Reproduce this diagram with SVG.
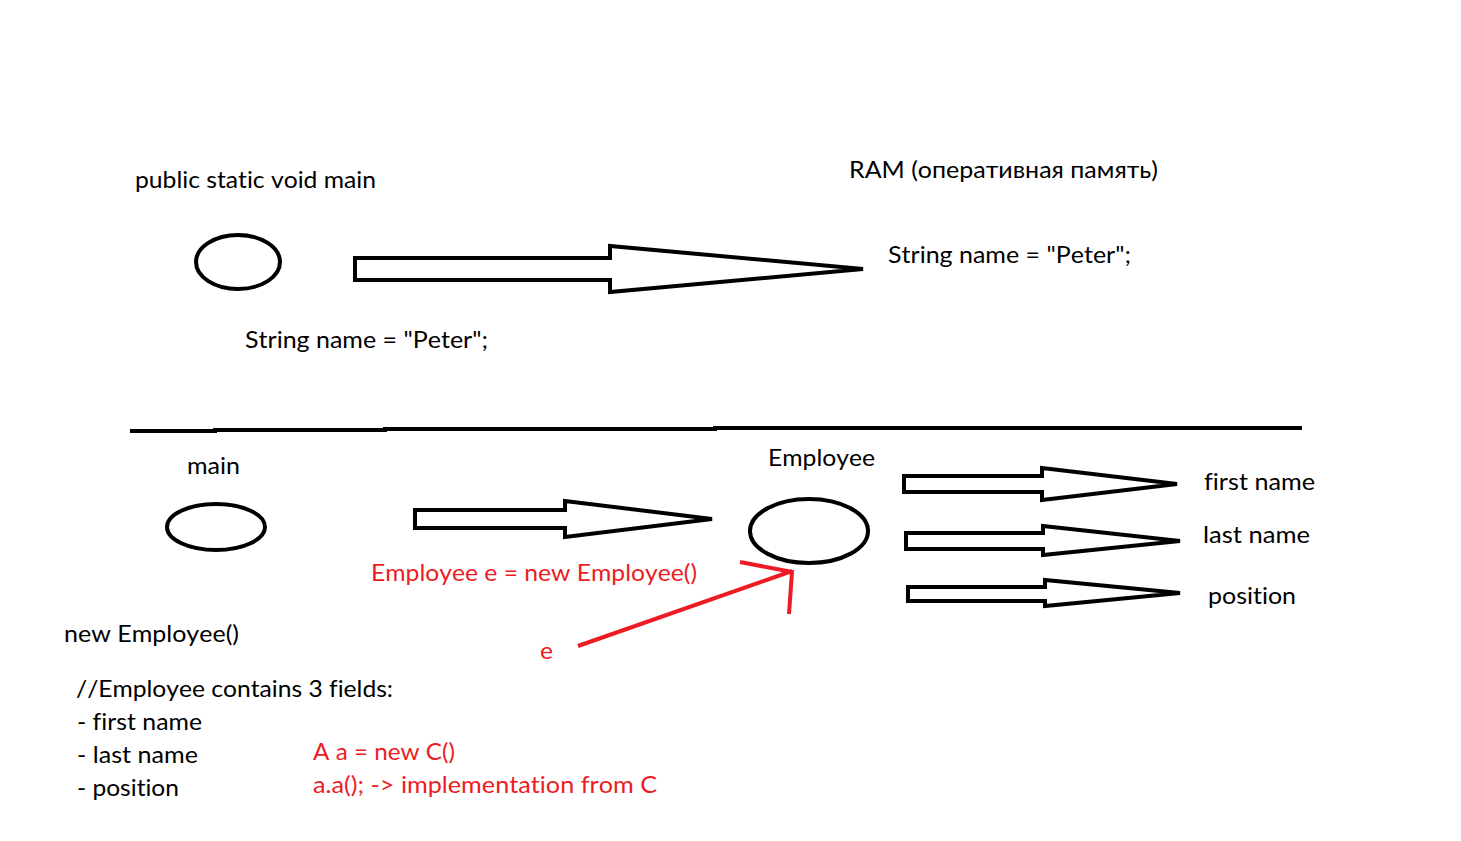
<svg xmlns="http://www.w3.org/2000/svg" width="1461" height="841" viewBox="0 0 1461 841">
<style>
text{font-family:Lato,"Open Sans","Liberation Sans",sans-serif;font-size:24px;fill:#000;font-variant-ligatures:none;font-kerning:none}
.r{fill:#ED1C24}
.blk{fill:#fff;stroke:#000;stroke-width:4;stroke-linejoin:miter}
.ell{fill:none;stroke:#000;stroke-width:4}
.red{fill:none;stroke:#ED1C24;stroke-width:4;stroke-linecap:butt}
</style>
<rect width="1461" height="841" fill="#fff"/>
<g id="labels">
<text x="135" y="188" textLength="241" lengthAdjust="spacingAndGlyphs">public static void main</text>
<text x="849" y="178" textLength="309" lengthAdjust="spacingAndGlyphs">RAM (оперативная память)</text>
<text x="888" y="263" textLength="243" lengthAdjust="spacingAndGlyphs">String name = "Peter";</text>
<text x="245" y="348" textLength="243" lengthAdjust="spacingAndGlyphs">String name = "Peter";</text>
<text x="187" y="474" textLength="53" lengthAdjust="spacingAndGlyphs">main</text>
<text x="768" y="466" textLength="107" lengthAdjust="spacingAndGlyphs">Employee</text>
<text x="1204" y="490" textLength="111" lengthAdjust="spacingAndGlyphs">first name</text>
<text x="1203" y="543" textLength="107" lengthAdjust="spacingAndGlyphs">last name</text>
<text x="1208" y="604" textLength="88" lengthAdjust="spacingAndGlyphs">position</text>
<text class="r" x="371" y="581" textLength="326" lengthAdjust="spacingAndGlyphs">Employee e = new Employee()</text>
<text x="64" y="642" textLength="175" lengthAdjust="spacingAndGlyphs">new Employee()</text>
<text class="r" x="540" y="659" textLength="13" lengthAdjust="spacingAndGlyphs">e</text>
<text x="76" y="697" textLength="317" lengthAdjust="spacingAndGlyphs">//Employee contains 3 fields:</text>
<text x="77" y="730" textLength="125" lengthAdjust="spacingAndGlyphs">- first name</text>
<text x="77" y="763" textLength="121" lengthAdjust="spacingAndGlyphs">- last name</text>
<text x="77" y="796" textLength="102" lengthAdjust="spacingAndGlyphs">- position</text>
<text class="r" x="313" y="760" textLength="142" lengthAdjust="spacingAndGlyphs">A a = new C()</text>
<text class="r" x="313" y="793" textLength="344" lengthAdjust="spacingAndGlyphs">a.a(); -&gt; implementation from C</text>
</g>
<g id="node-main-top"><ellipse class="ell" cx="238" cy="262" rx="42" ry="27"/></g>
<g id="node-main"><ellipse class="ell" cx="216" cy="527" rx="49" ry="23"/></g>
<g id="node-employee"><ellipse class="ell" cx="809" cy="531" rx="59" ry="32"/></g>
<g id="connectors">
<path class="blk" d="M355,258 H610 V246 L863,269 L610,292 V280 H355 Z"/>
<path class="blk" d="M415,510 H565 V501 L712,519 L565,537 V528 H415 Z"/>
<path class="blk" d="M904,476 H1042 V468 L1177,484 L1042,500 V492 H904 Z"/>
<path class="blk" d="M906,533 H1043 V526 L1180,541 L1043,555 V549 H906 Z"/>
<path class="blk" d="M908,587 H1045 V580 L1180,593 L1045,606 V601 H908 Z"/>
<path class="red" d="M578,646 L792,571 M740,562 L792,572 L789,614"/>
<path d="M130,431 H215 V430 H385 V429 H715 V428 H1302" fill="none" stroke="#000" stroke-width="4"/>
</g>
</svg>
